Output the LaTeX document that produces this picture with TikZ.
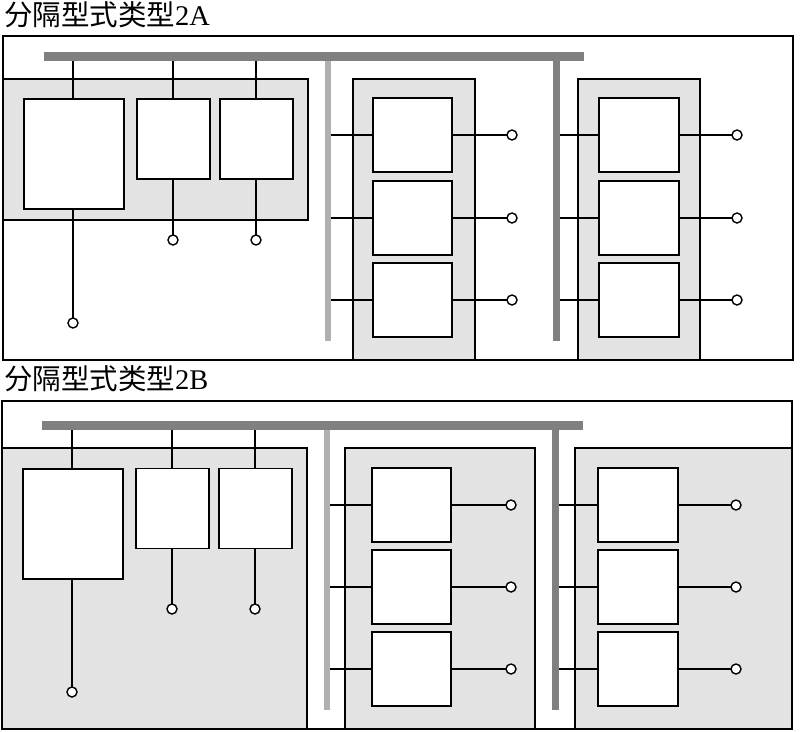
\documentclass[tikz,border=0pt]{standalone}
\usepackage{fontspec}
\setmainfont{Liberation Serif}
\newfontfamily\cjk{Noto Sans CJK SC}
\definecolor{panelgray}{HTML}{E3E3E3}
\definecolor{busdark}{HTML}{808080}
\definecolor{buslight}{HTML}{B0B0B0}
\tikzset{
	frame/.style={draw=black, line width=1.2pt},
	panel/.style={draw=black, line width=1.2pt, fill=panelgray},
	modbox/.style={draw=black, line width=1.4pt, fill=white, inner sep=0pt, outer sep=0pt},
	wire/.style={line width=1.4pt},
	term/.style={circle, draw=black, line width=1.4pt, fill=white, inner sep=0pt, minimum size=10pt, outer sep=0pt},
	bar/.style={fill=#1, inner sep=0pt, outer sep=0pt},
	title/.style={anchor=west, inner sep=0pt, font=\fontsize{28.5pt}{29pt}\selectfont}
}
\begin{document}
\begin{tikzpicture}[x=1pt, y=-1pt, line cap=butt, line join=miter]
	\useasboundingbox (0,0) rectangle (802,731);

	% type 2A
	\node[title] (title2a) at (4,15) {{\cjk 分隔型式类型}2A};
	\draw[frame] (3,36) rectangle (793,360);
	\draw[panel] (3,79) rectangle (308,220);
	\draw[panel] (353,79) rectangle (475,360);
	\draw[panel] (578,79) rectangle (700,360);
	\node[bar=buslight, minimum width=6pt, minimum height=280pt] (lighta) at (328,201) {};
	\node[bar=busdark, minimum width=7pt, minimum height=280pt] (darka) at (556.5,201) {};
	\node[bar=busdark, minimum width=540pt, minimum height=9pt] (busa) at (314,56.5) {};

	\node[modbox, minimum width=100pt, minimum height=110pt] (biga) at (74,154) {};
	\node[modbox, minimum width=73pt, minimum height=80pt] (lefta) at (173.5,139) {};
	\node[modbox, minimum width=73pt, minimum height=80pt] (righta) at (256.5,139) {};
	\node[term] (tbiga) at (73,323) {};
	\node[term] (tlefta) at (173,240) {};
	\node[term] (trighta) at (256,240) {};
	\foreach \n in {biga, lefta, righta} {
		\draw[wire] (t\n |- \n.north) -- (t\n |- busa.south);
		\draw[wire] (t\n |- \n.south) -- (t\n);
	}
	\foreach \r/\y in {1/135, 2/218, 3/300} {
		\node[modbox, minimum width=79pt, minimum height=74pt] (ba\r) at (412.5,\y) {};
		\node[term] (tba\r) at (512,\y) {};
		\draw[wire] (lighta.east |- ba\r.west) -- (ba\r.west);
		\draw[wire] (ba\r.east) -- (tba\r);
		\node[modbox, minimum width=80pt, minimum height=74pt] (ca\r) at (639,\y) {};
		\node[term] (tca\r) at (737,\y) {};
		\draw[wire] (darka.east |- ca\r.west) -- (ca\r.west);
		\draw[wire] (ca\r.east) -- (tca\r);
	}

	% type 2B
	\node[title] (title2b) at (4,379) {{\cjk 分隔型式类型}2B};
	\draw[frame] (2,401) rectangle (792,729);
	\draw[panel] (2,448) rectangle (307,729);
	\draw[panel] (345,448) rectangle (535,729);
	\draw[panel] (575,448) rectangle (792,729);
	\node[bar=buslight, minimum width=6pt, minimum height=280pt] (lightb) at (327,570) {};
	\node[bar=busdark, minimum width=7pt, minimum height=280pt] (darkb) at (555.5,570) {};
	\node[bar=busdark, minimum width=541pt, minimum height=9pt] (busb) at (312.5,425.5) {};

	\node[modbox, minimum width=100pt, minimum height=110pt] (bigb) at (73,524) {};
	\node[modbox, minimum width=73pt, minimum height=80pt] (leftb) at (172.5,508.5) {};
	\node[modbox, minimum width=73pt, minimum height=80pt] (rightb) at (255.5,508.5) {};
	\node[term] (tbigb) at (72,692) {};
	\node[term] (tleftb) at (172,609) {};
	\node[term] (trightb) at (255,609) {};
	\foreach \n in {bigb, leftb, rightb} {
		\draw[wire] (t\n |- \n.north) -- (t\n |- busb.south);
		\draw[wire] (t\n |- \n.south) -- (t\n);
	}
	\foreach \r/\y in {1/505, 2/587, 3/669} {
		\node[modbox, minimum width=79pt, minimum height=74pt] (bb\r) at (411.5,\y) {};
		\node[term] (tbb\r) at (511,\y) {};
		\draw[wire] (lightb.east |- bb\r.west) -- (bb\r.west);
		\draw[wire] (bb\r.east) -- (tbb\r);
		\node[modbox, minimum width=80pt, minimum height=74pt] (cb\r) at (638,\y) {};
		\node[term] (tcb\r) at (736,\y) {};
		\draw[wire] (darkb.east |- cb\r.west) -- (cb\r.west);
		\draw[wire] (cb\r.east) -- (tcb\r);
	}
\end{tikzpicture}
\end{document}
